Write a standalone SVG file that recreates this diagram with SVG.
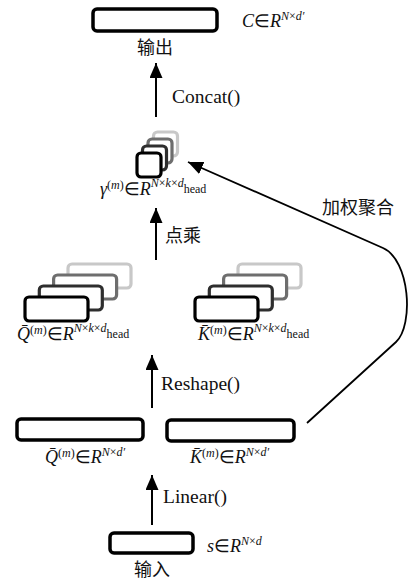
<svg xmlns="http://www.w3.org/2000/svg" width="409" height="581" viewBox="0 0 409 581">
  <style>
    .box { fill: #fff; stroke: #000; stroke-width: 3.5; }
    .k0 { fill: #fff; stroke: #000; stroke-width: 3.2; }
    .k1 { fill: #fff; stroke: #2e2e2e; stroke-width: 3.2; }
    .k2 { fill: #fff; stroke: #6e6e6e; stroke-width: 3.2; }
    .k3 { fill: #fff; stroke: #c8c8c8; stroke-width: 3.2; }
    .arrow { stroke: #000; stroke-width: 2; fill: none; marker-end: url(#head); }
    .flow { stroke: #000; stroke-width: 1.8; fill: none; marker-end: url(#head); }
    .cn { font-family: "Noto Sans CJK SC", "Noto Sans CJK TC", sans-serif; font-size: 18px; fill: #111; }
    .op { font-family: "Liberation Serif", serif; font-size: 19.5px; fill: #111; }
    .mt { font-family: "Liberation Serif", serif; font-size: 18px; fill: #111; }
    .it { font-style: italic; }
    .sp { font-size: 12px; }
  </style>
  <defs>
    <marker id="head" markerUnits="userSpaceOnUse" markerWidth="16" markerHeight="14" refX="15" refY="6.5" orient="auto">
      <path d="M0,0 L15,6.5 L0,13 Z" fill="#000"/>
    </marker>
  </defs>

  <!-- output -->
  <g id="output">
    <rect class="box" x="93" y="9" width="124" height="22" rx="4"/>
    <text class="cn" x="155" y="54" text-anchor="middle">输出</text>
    <text class="mt" x="242" y="27"><tspan class="it">C</tspan><tspan>∈</tspan><tspan class="it">R</tspan><tspan class="sp it" dy="-7">N</tspan><tspan class="sp">×</tspan><tspan class="sp it">d′</tspan></text>
  </g>

  <!-- attention weights stack -->
  <g id="gamma">
    <rect class="k3" x="153.5" y="132" width="24" height="24" rx="4"/>
    <rect class="k2" x="148" y="139" width="24" height="24" rx="4"/>
    <rect class="k1" x="142.5" y="146" width="24" height="24" rx="4"/>
    <rect class="k0" x="137" y="153" width="24" height="24" rx="4"/>
    <text class="mt" x="100" y="195"><tspan class="it">γ</tspan><tspan class="sp" dy="-6">(</tspan><tspan class="sp it">m</tspan><tspan class="sp">)</tspan><tspan dy="6">∈</tspan><tspan class="it">R</tspan><tspan class="sp it" dy="-8">N</tspan><tspan class="sp">×</tspan><tspan class="sp it">k</tspan><tspan class="sp">×</tspan><tspan class="sp it">d</tspan><tspan class="sp" dy="6">head</tspan></text>
  </g>

  <!-- per-head queries -->
  <g id="q-heads">
    <rect class="k3" x="68" y="264" width="63" height="24" rx="4"/>
    <rect class="k2" x="53.6" y="275" width="63" height="24" rx="4"/>
    <rect class="k1" x="39.3" y="286" width="63" height="24" rx="4"/>
    <rect class="k0" x="25" y="297" width="63" height="24" rx="4"/>
    <text class="mt" x="17" y="340"><tspan class="it">Q&#x304;</tspan><tspan class="sp" dy="-6">(</tspan><tspan class="sp it">m</tspan><tspan class="sp">)</tspan><tspan dy="6">∈</tspan><tspan class="it">R</tspan><tspan class="sp it" dy="-8">N</tspan><tspan class="sp">×</tspan><tspan class="sp it">k</tspan><tspan class="sp">×</tspan><tspan class="sp it">d</tspan><tspan class="sp" dy="6">head</tspan></text>
  </g>

  <!-- per-head keys -->
  <g id="k-heads">
    <rect class="k3" x="238" y="264" width="63" height="24" rx="4"/>
    <rect class="k2" x="223.6" y="275" width="63" height="24" rx="4"/>
    <rect class="k1" x="209.3" y="286" width="63" height="24" rx="4"/>
    <rect class="k0" x="195" y="297" width="63" height="24" rx="4"/>
    <text class="mt" x="198" y="340"><tspan class="it">K&#x304;</tspan><tspan class="sp" dy="-6">(</tspan><tspan class="sp it">m</tspan><tspan class="sp">)</tspan><tspan dy="6">∈</tspan><tspan class="it">R</tspan><tspan class="sp it" dy="-8">N</tspan><tspan class="sp">×</tspan><tspan class="sp it">k</tspan><tspan class="sp">×</tspan><tspan class="sp it">d</tspan><tspan class="sp" dy="6">head</tspan></text>
  </g>

  <!-- projected queries -->
  <g id="q-proj">
    <rect class="box" x="17" y="419" width="126" height="21" rx="4"/>
    <text class="mt" x="45" y="463"><tspan class="it">Q&#x304;</tspan><tspan class="sp" dy="-6">(</tspan><tspan class="sp it">m</tspan><tspan class="sp">)</tspan><tspan dy="6">∈</tspan><tspan class="it">R</tspan><tspan class="sp it" dy="-7">N</tspan><tspan class="sp">×</tspan><tspan class="sp it">d′</tspan></text>
  </g>

  <!-- projected keys -->
  <g id="k-proj">
    <rect class="box" x="167" y="420" width="127" height="21" rx="4"/>
    <text class="mt" x="190" y="463"><tspan class="it">K&#x304;</tspan><tspan class="sp" dy="-6">(</tspan><tspan class="sp it">m</tspan><tspan class="sp">)</tspan><tspan dy="6">∈</tspan><tspan class="it">R</tspan><tspan class="sp it" dy="-7">N</tspan><tspan class="sp">×</tspan><tspan class="sp it">d′</tspan></text>
  </g>

  <!-- input -->
  <g id="input">
    <rect class="box" x="110" y="533" width="83" height="20" rx="4"/>
    <text class="cn" x="152" y="576" text-anchor="middle">输入</text>
    <text class="mt" x="207" y="552"><tspan class="it">s</tspan><tspan>∈</tspan><tspan class="it">R</tspan><tspan class="sp it" dy="-7">N</tspan><tspan class="sp">×</tspan><tspan class="sp it">d</tspan></text>
  </g>

  <!-- connectors -->
  <g id="connectors">
    <line class="arrow" x1="156" y1="117" x2="156" y2="63"/>
    <line class="arrow" x1="156" y1="260" x2="156" y2="208"/>
    <line class="arrow" x1="152" y1="408" x2="152" y2="355"/>
    <line class="arrow" x1="152" y1="525" x2="152" y2="475"/>
    <path class="flow" d="M307,423 L396,342 C414,325 410,260 383,248 L188,162"/>
    <text class="op" x="172" y="103">Concat()</text>
    <text class="cn" x="165" y="242">点乘</text>
    <text class="op" x="161" y="390">Reshape()</text>
    <text class="op" x="163" y="503">Linear()</text>
    <text class="cn" x="322" y="214">加权聚合</text>
  </g>
</svg>
